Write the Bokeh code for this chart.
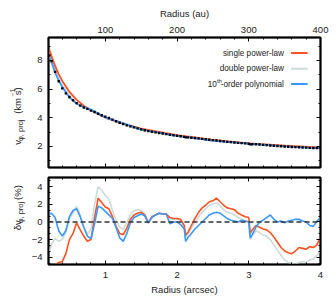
import math
from bokeh.plotting import figure
from bokeh.models import Range1d, LinearAxis, SingleIntervalTicker, Label, Span, ColumnDataSource
from bokeh.layouts import column, row
from bokeh.embed import file_html
from bokeh.resources import INLINE
from bokeh.core.properties import value

# ---------------- data ----------------
RADIUS = [0.22, 0.25, 0.30, 0.35, 0.40, 0.45, 0.50, 0.55, 0.60, 0.65, 0.70, 0.75, 0.80, 0.85,
          0.90, 0.95, 1.00, 1.05, 1.10, 1.15, 1.20, 1.25, 1.30, 1.35, 1.40, 1.45, 1.50, 1.55,
          1.60, 1.65, 1.70, 1.75, 1.80, 1.85, 1.90, 1.95, 2.00, 2.05, 2.10, 2.12, 2.15, 2.20,
          2.25, 2.30, 2.35, 2.40, 2.45, 2.50, 2.55, 2.60, 2.65, 2.70, 2.75, 2.80, 2.85, 2.90,
          2.95, 3.00, 3.02, 3.05, 3.10, 3.15, 3.20, 3.25, 3.30, 3.35, 3.40, 3.45, 3.50, 3.55,
          3.60, 3.65, 3.70, 3.75, 3.80, 3.85, 3.90, 3.95, 4.00]

V_DATA = [8.35, 7.95, 7.20, 6.55, 6.05, 5.70, 5.45, 5.22, 5.02, 4.85, 4.72, 4.62, 4.50, 4.40,
          4.28, 4.18, 4.08, 3.98, 3.87, 3.76, 3.65, 3.56, 3.47, 3.40, 3.33, 3.26, 3.19, 3.13,
          3.07, 3.02, 2.98, 2.94, 2.90, 2.86, 2.81, 2.78, 2.74, 2.71, 2.67, 2.63, 2.63, 2.61,
          2.59, 2.56, 2.53, 2.50, 2.47, 2.44, 2.41, 2.38, 2.35, 2.32, 2.30, 2.27, 2.25, 2.23,
          2.21, 2.19, 2.14, 2.15, 2.15, 2.13, 2.11, 2.09, 2.07, 2.05, 2.03, 2.01, 1.99, 1.98,
          1.96, 1.95, 1.94, 1.93, 1.92, 1.90, 1.89, 1.88, 1.88]

RADIUS_MODEL = [0.22, 0.25, 0.30, 0.35, 0.40, 0.50, 0.60, 0.70, 0.80, 1.00, 1.20, 1.50,
                2.00, 2.50, 3.00, 3.50, 4.00]
V_SINGLE = [8.72, 8.30, 7.62, 7.05, 6.57, 5.80, 5.25, 4.84, 4.51, 4.02, 3.66, 3.25, 2.79,
            2.46, 2.22, 2.05, 1.91]
V_DOUBLE = [8.55, 8.12, 7.38, 6.75, 6.25, 5.50, 5.00, 4.72, 4.52, 3.98, 3.64, 3.16, 2.73,
            2.39, 2.19, 2.08, 1.94]
V_POLY = [8.25, 7.88, 7.15, 6.60, 6.14, 5.42, 4.98, 4.75, 4.57, 4.03, 3.70, 3.17, 2.74,
          2.41, 2.19, 2.00, 1.87]

RES_POLY = [0.9, 1.0, 0.5, -1.0, -1.6, -1.0, 0.6, 1.3, 1.5, 0.6, -0.6, -1.6, -1.9, -0.2,
            1.8, 1.6, 1.2, 0.8, 0.4, -0.6, -1.8, -2.2, -1.3, -0.1, 0.5, 0.7, 0.9, 0.7,
            -0.1, 0.5, 0.8, 1.0, 0.9, 0.9, -0.2, 0.0, 0.0, -0.3, -0.8, -2.2, -1.8, -1.3,
            -0.8, -0.4, 0.0, 0.4, 0.8, 1.0, 1.1, 1.0, 0.7, 0.4, 0.2, 0.1, 0.0, 0.2,
            0.1, 0.0, -1.8, -1.4, -0.6, 0.0, 0.2, 0.5, 0.8, 0.3, 0.0, 0.1, -0.1, 0.1,
            0.2, 0.3, 0.3, 0.1, 0.0, -0.4, -0.5, 0.1, 0.5]
RES_SINGLE = [-5.6, -5.3, -4.9, -4.6, -4.5, -3.6, -2.0, -1.3, -0.1, -0.9, -1.6, -2.2, -2.0, 0.5,
              2.7, 2.2, 1.7, 1.5, 0.6, -0.5, -1.3, -1.45, -0.7, 0.3, 0.8, 1.0, 1.1, 0.8,
              -0.1, 0.6, 0.8, 1.0, 0.9, 0.9, 0.5, 0.4, 0.4, 0.3, -0.4, -1.5, -1.2, -0.4,
              0.4, 1.1, 1.6, 1.9, 2.3, 2.4, 2.7, 2.3, 1.9, 1.6, 1.5, 1.4, 1.0, 0.8,
              0.6, 0.5, -1.3, -0.9, -0.4, -0.6, -0.8, -0.9, -1.2, -1.7, -2.3, -2.9, -3.3, -3.5,
              -3.6, -3.3, -2.9, -3.0, -3.1, -2.8, -2.9, -2.6, -1.7]
RES_DOUBLE = [-3.4, -2.5, -1.9, -2.2, -2.0, -1.2, 0.4, 1.0, 1.8, 0.8, -0.6, -1.4, -0.8, 2.0,
              4.0, 3.6, 3.0, 2.6, 1.3, 0.2, -0.6, -0.8, -0.1, 0.8, 1.3, 1.4, 1.3, 0.9,
              0.0, 0.6, 0.8, 1.0, 0.9, 0.9, 0.4, 0.3, 0.3, 0.2, -0.5, -1.7, -1.4, -0.7,
              0.0, 0.6, 1.1, 1.5, 1.9, 2.0, 2.2, 1.8, 1.4, 1.1, 1.0, 0.8, 0.5, 0.3,
              0.1, 0.0, -2.0, -1.6, -1.0, -1.2, -1.5, -1.6, -2.0, -2.6, -3.2, -3.8, -4.3, -4.6,
              -4.7, -4.8, -4.6, -4.5, -4.6, -4.3, -4.2, -3.8, -3.2]

LEGEND_LABELS = ["single power-law", "double power-law", "-order polynomial"]
COLORS = {"single": "#ff5220", "double": "#cddbdb", "poly": "#3a98ff"}

FONT = "Liberation Sans"
TXT = "#222222"

X_RANGE = (0.208, 4.0)
AU_RANGE = (20.8, 400.0)
Y_TOP = (0.53, 9.6)
Y_BOT = (-4.83, 5.05)

LAB_W = 28          # width of the y-title strip
TOP_B, TOP_FH, TOP_BB = 37, 130, 5
BOT_T, BOT_FH, BOT_BB = 5, 87, 38


def style_axis(ax, labels=True, size="9.5px"):
    ax.axis_line_color = "black"
    ax.axis_line_width = 1.5
    ax.major_tick_in = 4
    ax.major_tick_out = 0
    ax.minor_tick_in = 2
    ax.minor_tick_out = 0
    ax.major_tick_line_color = "black"
    ax.minor_tick_line_color = "black"
    ax.major_tick_line_width = 1
    ax.minor_tick_line_width = 1
    ax.major_label_text_font = FONT
    ax.major_label_text_color = TXT
    ax.major_label_text_font_size = size
    ax.axis_label_text_font = FONT
    ax.axis_label_text_font_style = "normal"
    ax.axis_label_text_color = TXT
    ax.axis_label_text_font_size = "9.5px"
    if not labels:
        ax.major_label_text_color = None
        ax.major_label_standoff = 0
        ax.axis_label_standoff = 0


def base_fig(yr, fh, top_border, bottom_border, extra=None):
    p = figure(frame_width=272, frame_height=fh,
               x_range=Range1d(*X_RANGE), y_range=Range1d(*yr),
               output_backend="svg", toolbar_location=None,
               x_axis_location=None, y_axis_location=None,
               min_border_left=48 - LAB_W, min_border_right=14,
               min_border_top=top_border, min_border_bottom=bottom_border,
               background_fill_color="white", border_fill_color="white")
    if extra:
        p.extra_x_ranges = extra
    p.xgrid.visible = False
    p.ygrid.visible = False
    p.outline_line_color = "black"
    p.outline_line_width = 2
    return p


def title_strip(height, parts, start, base):
    # a narrow strip holding a rotated y title built from pieces (sub/superscripts)
    s = figure(width=LAB_W, height=height, x_range=Range1d(0, LAB_W), y_range=Range1d(0, height),
               output_backend="svg", toolbar_location=None,
               x_axis_location=None, y_axis_location=None,
               min_border=0, outline_line_color=None,
               background_fill_color="white", border_fill_color="white")
    s.xgrid.visible = False
    s.ygrid.visible = False
    y = start
    for text, fs, shift, adv in parts:
        s.text(x=[base + shift], y=[y], text=[text], angle=math.pi / 2,
               text_align="left", text_baseline="alphabetic",
               text_font=value(FONT), text_font_size=f"{fs}px", text_color=TXT)
        y += adv
    return s


# ---------------- top panel ----------------
top = base_fig(Y_TOP, TOP_FH, TOP_B, TOP_BB, extra={"au": Range1d(*AU_RANGE)})

ax = LinearAxis(ticker=SingleIntervalTicker(interval=2, num_minor_ticks=2))
style_axis(ax)
ax.major_label_standoff = 6
top.add_layout(ax, "left")
ax = LinearAxis(ticker=SingleIntervalTicker(interval=2, num_minor_ticks=2))
style_axis(ax, labels=False)
top.add_layout(ax, "right")
ax = LinearAxis(ticker=SingleIntervalTicker(interval=1, num_minor_ticks=5))
style_axis(ax, labels=False)
top.add_layout(ax, "below")
ax = LinearAxis(x_range_name="au", ticker=SingleIntervalTicker(interval=100, num_minor_ticks=5),
                axis_label="Radius (au)")
style_axis(ax)
ax.major_label_standoff = 5
ax.axis_label_standoff = 5
top.add_layout(ax, "above")

top.line(RADIUS_MODEL, V_DOUBLE, line_color=COLORS["double"], line_width=1.8)
top.line(RADIUS_MODEL, V_SINGLE, line_color=COLORS["single"], line_width=1.8)
top.line(RADIUS_MODEL, V_POLY, line_color=COLORS["poly"], line_width=1.8)
top.scatter(RADIUS, V_DATA, marker="square", size=2.4, fill_color="black", line_color=None)

# legend (text left, sample right)
LEG_Y = [8.51, 7.42, 6.35]
LEG_TX = 3.49
leg_src = ColumnDataSource(dict(x0=[3.59] * 3, x1=[3.82] * 3, y=LEG_Y,
                                c=[COLORS["single"], COLORS["double"], COLORS["poly"]]))
top.segment(x0="x0", x1="x1", y0="y", y1="y", line_color="c", line_width=2, source=leg_src)
for i, lab in enumerate(LEGEND_LABELS):
    top.add_layout(Label(x=LEG_TX, y=LEG_Y[i], text=lab, text_align="right",
                         text_baseline="middle", text_font=FONT, text_font_size="8.2px",
                         text_color=TXT))
top.add_layout(Label(x=LEG_TX, y=LEG_Y[2], x_offset=-62, y_offset=3, text="th",
                     text_align="right", text_baseline="middle", text_font=FONT,
                     text_font_size="6px", text_color=TXT))
top.add_layout(Label(x=LEG_TX, y=LEG_Y[2], x_offset=-67, text="10",
                     text_align="right", text_baseline="middle", text_font=FONT,
                     text_font_size="8.2px", text_color=TXT))

top_h = TOP_B + TOP_FH + TOP_BB
top_title = title_strip(top_h, [("v", 9.5, 0, 5.0), ("φ, proj", 7.5, 3, 36.0),
                                ("(km s", 9.5, 0, 23.3), ("−1", 6.5, -4.5, 7.6), (")", 9.5, 0, 4)],
                        start=30, base=16.5)

# ---------------- bottom panel ----------------
bot = base_fig(Y_BOT, BOT_FH, BOT_T, BOT_BB)
neg = {-4: "−4", -2: "−2"}
ax = LinearAxis(ticker=SingleIntervalTicker(interval=2, num_minor_ticks=3),
                major_label_overrides=neg)
style_axis(ax)
ax.major_label_standoff = 6
bot.add_layout(ax, "left")
ax = LinearAxis(ticker=SingleIntervalTicker(interval=2, num_minor_ticks=3))
style_axis(ax, labels=False)
bot.add_layout(ax, "right")
ax = LinearAxis(ticker=SingleIntervalTicker(interval=1, num_minor_ticks=5),
                axis_label="Radius (arcsec)")
style_axis(ax)
ax.major_label_standoff = 7
ax.axis_label_standoff = 3
bot.add_layout(ax, "below")
ax = LinearAxis(ticker=SingleIntervalTicker(interval=1, num_minor_ticks=5))
style_axis(ax, labels=False)
bot.add_layout(ax, "above")

bot.line(RADIUS, RES_DOUBLE, line_color=COLORS["double"], line_width=1.6)
bot.line(RADIUS, RES_SINGLE, line_color=COLORS["single"], line_width=1.6)
bot.line(RADIUS, RES_POLY, line_color=COLORS["poly"], line_width=1.6)
bot.add_layout(Span(location=0, dimension="width", line_color="#333333",
                    line_width=1.5, line_dash="5 3"))

bot_h = BOT_T + BOT_FH + BOT_BB
bot_title = title_strip(bot_h, [("δv", 9.5, 0, 10.5), ("φ, proj", 7.5, 3, 35.0),
                                ("(%)", 9.5, 0, 15)],
                        start=51, base=16.5)

layout = column(row(top_title, top, spacing=0), row(bot_title, bot, spacing=0), spacing=0)
open("out.html", "w").write(file_html(layout, INLINE))
